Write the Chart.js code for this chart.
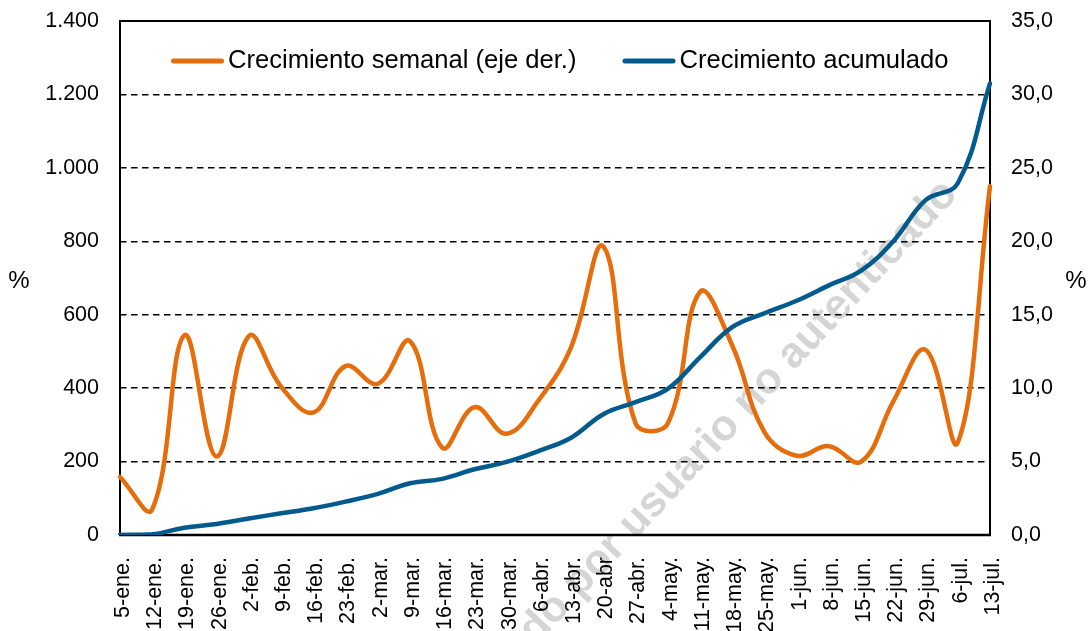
<!DOCTYPE html>
<html>
<head>
<meta charset="utf-8">
<script src="https://cdn.jsdelivr.net/npm/chart.js@4/dist/chart.umd.min.js"></script>
<style>
html,body{margin:0;padding:0;background:#fff;overflow:hidden}
canvas{display:block}
</style>
</head>
<body>
<canvas id="c" width="1089" height="631"></canvas>
<script>
// ---- Data ----
const categories = ['5-ene.','12-ene.','19-ene.','26-ene.','2-feb.','9-feb.','16-feb.','23-feb.','2-mar.','9-mar.','16-mar.','23-mar.','30-mar.','6-abr.','13-abr.','20-abr','27-abr.','4-may.','11-may.','18-may.','25-may.','1-jun.','8-jun.','15-jun.','22-jun.','29-jun.','6-jul.','13-jul.'];
const weeklyGrowth = [3.95, 1.75, 13.6, 5.35, 13.55, 10.1, 8.35, 11.5, 10.3, 13.2, 5.95, 8.7, 6.9, 9.2, 12.8, 19.65, 7.6, 7.6, 16.55, 12.9, 7.0, 5.4, 6.05, 5.0, 9.1, 12.6, 6.3, 23.75];
const cumulativeGrowth = [0, 2, 20, 30, 45, 59, 73, 91, 112, 141, 153, 179, 199, 229, 265, 329, 362, 398, 484, 566, 604, 638, 680, 720, 800, 912, 958, 1230];
const leftTickLabels = ['0','200','400','600','800','1.000','1.200','1.400'];
const rightTickLabels = ['0,0','5,0','10,0','15,0','20,0','25,0','30,0','35,0'];
const seriesNames = ['Crecimiento semanal (eje der.)','Crecimiento acumulado'];
const axisTitle = '%';
const watermarkText = 'Descargado por usuario no autenticado';

// ---- Styles ----
const FONT = "'Liberation Sans', Arial, Helvetica, sans-serif";
const ORANGE = '#E56D0B';
const BLUE = '#035A8C';

const decorPlugin = {
  id: 'decor',
  beforeDraw(chart) {
    const {ctx, width, height} = chart;
    ctx.save();
    ctx.fillStyle = '#fff';
    ctx.fillRect(0, 0, width, height);
    ctx.translate(959, 195);
    ctx.rotate(-46.8 * Math.PI / 180);
    ctx.font = 'bold 43px ' + FONT;
    ctx.fillStyle = '#d5d5d5';
    ctx.textAlign = 'right';
    ctx.textBaseline = 'alphabetic';
    ctx.fillText(watermarkText, 0, 0);
    ctx.restore();
  },
  beforeDatasetsDraw(chart) {
    const {ctx, chartArea: a} = chart;
    ctx.save();
    ctx.strokeStyle = '#000';
    ctx.lineWidth = 2;
    ctx.strokeRect(a.left, a.top, a.right - a.left, a.bottom - a.top);
    ctx.lineWidth = 2.6;
    ctx.beginPath();
    ctx.moveTo(a.left - 1, a.bottom);
    ctx.lineTo(a.right + 1, a.bottom);
    ctx.stroke();
    ctx.restore();
  },
  afterDraw(chart) {
    const {ctx} = chart;
    ctx.save();
    // legend
    ctx.font = '25.6px ' + FONT;
    ctx.textBaseline = 'alphabetic';
    ctx.textAlign = 'left';
    let x = 171;
    const ly = 61;
    chart.data.datasets.forEach(ds => {
      ctx.strokeStyle = ds.borderColor;
      ctx.lineWidth = 5;
      ctx.lineCap = 'round';
      ctx.beginPath();
      ctx.moveTo(x + 2.5, ly);
      ctx.lineTo(x + 50.5, ly);
      ctx.stroke();
      ctx.fillStyle = '#000';
      ctx.fillText(ds.label, x + 57, 68);
      x += 57 + ctx.measureText(ds.label).width + 46;
    });
    // axis titles
    ctx.font = '24px ' + FONT;
    ctx.textAlign = 'center';
    ctx.textBaseline = 'middle';
    ctx.fillStyle = '#000';
    const my = 281;
    ctx.fillText(axisTitle, 19, my);
    ctx.fillText(axisTitle, 1076, my);
    ctx.restore();
  }
};

const tickFont = {family: FONT, size: 21.5};

new Chart(document.getElementById('c'), {
  type: 'line',
  data: {
    labels: categories,
    datasets: [
      {label: seriesNames[0], data: weeklyGrowth, yAxisID: 'y1', borderColor: ORANGE, backgroundColor: ORANGE,
       borderWidth: 4.5, pointRadius: 0, tension: 0.4, borderCapStyle: 'round', borderJoinStyle: 'round', fill: false, order: 1},
      {label: seriesNames[1], data: cumulativeGrowth, yAxisID: 'y', borderColor: BLUE, backgroundColor: BLUE,
       borderWidth: 4.5, pointRadius: 0, tension: 0.4, borderCapStyle: 'round', borderJoinStyle: 'round', fill: false, order: 0}
    ]
  },
  options: {
    responsive: false,
    devicePixelRatio: 1,
    animation: false,
    layout: {padding: {top: 21, left: 0, right: 0, bottom: 0}},
    plugins: {legend: {display: false}, tooltip: {enabled: false}, title: {display: false}},
    scales: {
      x: {
        type: 'category',
        offset: false,
        grid: {display: false},
        border: {display: false},
        ticks: {autoSkip: false, minRotation: 90, maxRotation: 90, padding: 14, labelOffset: 3, color: '#000', font: tickFont},
        afterFit(s) { s.height = 96; s.paddingLeft = 0; s.paddingRight = 0; }
      },
      y: {
        position: 'left',
        min: 0, max: 1400,
        ticks: {stepSize: 200, padding: 21, color: '#000', font: tickFont, callback: (v, i) => leftTickLabels[i]},
        grid: {drawTicks: false, lineWidth: 1.5,
               color: c => (c.tick && (c.tick.value === 0 || c.tick.value === 1400)) ? 'rgba(0,0,0,0)' : '#000'},
        border: {display: false, dash: [6.5, 4.5]},
        afterFit(s) { s.width = 120; s.paddingTop = 0; s.paddingBottom = 0; }
      },
      y1: {
        position: 'right',
        min: 0, max: 35,
        ticks: {stepSize: 5, padding: 21, color: '#000', font: tickFont, callback: (v, i) => rightTickLabels[i]},
        grid: {display: false, drawTicks: false},
        border: {display: false},
        afterFit(s) { s.width = 99; s.paddingTop = 0; s.paddingBottom = 0; }
      }
    }
  },
  plugins: [decorPlugin]
});
</script>
</body>
</html>
